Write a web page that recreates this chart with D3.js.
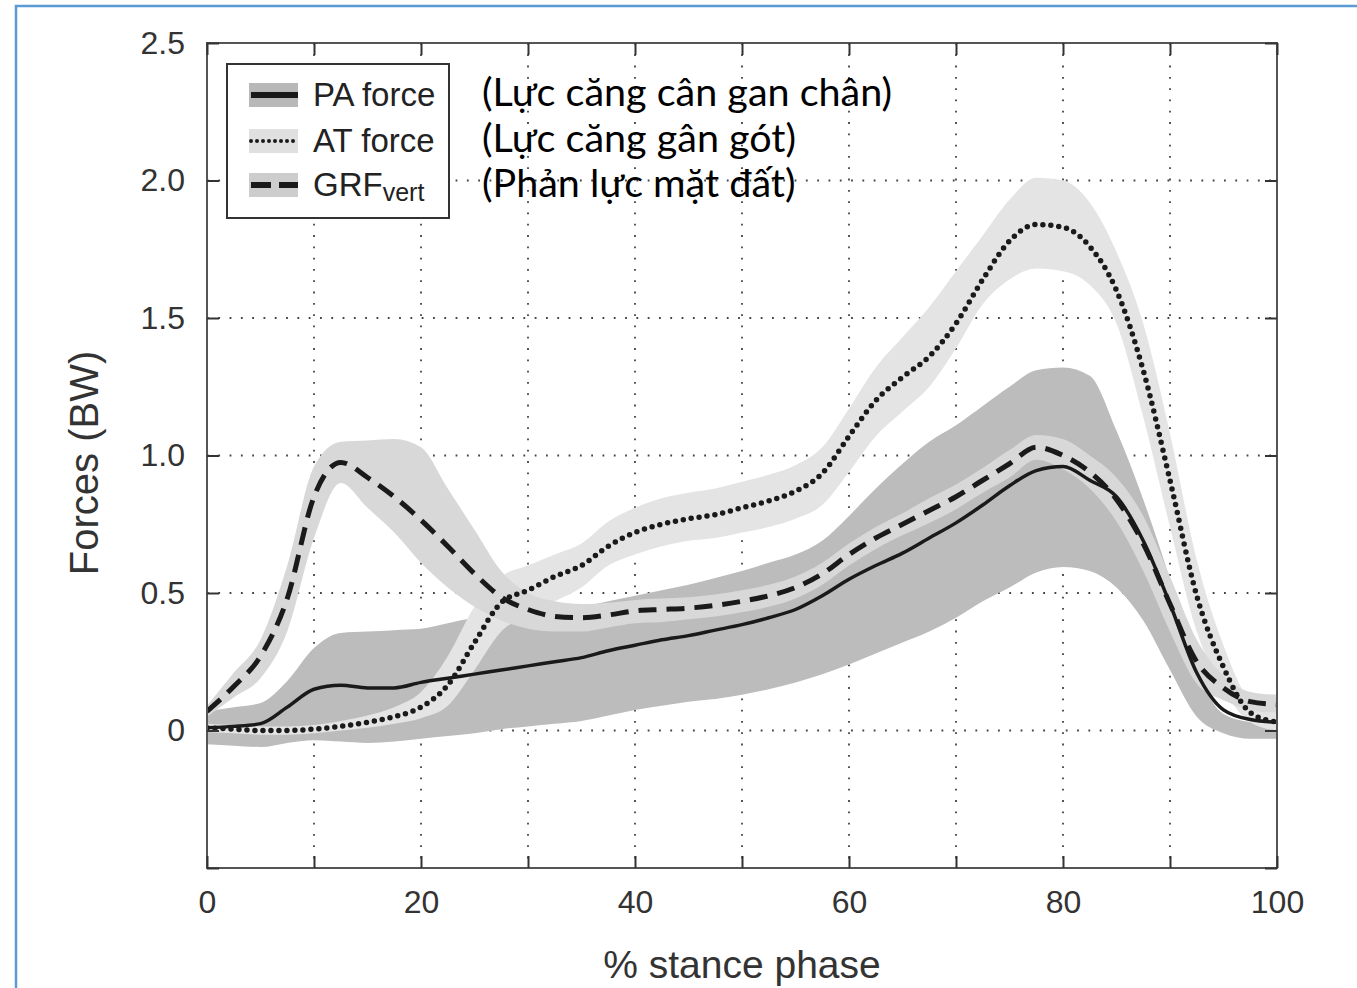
<!DOCTYPE html>
<html>
<head>
<meta charset="utf-8">
<script src="https://cdn.jsdelivr.net/npm/d3@7"></script>
<style>
  body { margin: 0; background: #fff; }
  svg { display: block; }
</style>
</head>
<body>
<div id="chart"></div>
<script>
// % stance phase sample points
const pct = [0, 2.5, 5, 7.5, 10, 12.5, 15, 17.5, 20, 22.5, 25, 27.5, 30, 32.5, 35, 37.5, 40, 42.5, 45, 47.5,
  50, 52.5, 55, 57.5, 60, 62.5, 65, 67.5, 70, 72.5, 75, 77.5, 80, 82.5, 85, 87.5, 90, 92.5, 95, 97.5, 100];

// plantar aponeurosis force (BW)
const paMean = [0.01, 0.015, 0.025, 0.085, 0.15, 0.165, 0.155, 0.155, 0.175, 0.19, 0.205, 0.22, 0.235, 0.25, 0.265, 0.29, 0.31, 0.33, 0.345, 0.365,
  0.385, 0.41, 0.44, 0.49, 0.55, 0.60, 0.645, 0.70, 0.755, 0.82, 0.89, 0.945, 0.96, 0.91, 0.85, 0.69, 0.46, 0.21, 0.075, 0.04, 0.03];
const paHigh = [0.07, 0.085, 0.10, 0.18, 0.30, 0.355, 0.36, 0.365, 0.37, 0.39, 0.41, 0.42, 0.43, 0.44, 0.45, 0.47, 0.49, 0.51, 0.53, 0.555,
  0.58, 0.61, 0.64, 0.69, 0.78, 0.88, 0.97, 1.05, 1.11, 1.18, 1.25, 1.31, 1.32, 1.29, 1.09, 0.84, 0.55, 0.22, 0.06, 0.03, 0.02];
const paLow = [-0.05, -0.055, -0.06, -0.045, -0.035, -0.04, -0.045, -0.04, -0.03, -0.02, -0.01, 0.005, 0.015, 0.025, 0.035, 0.055, 0.075, 0.09, 0.105, 0.115,
  0.13, 0.15, 0.175, 0.205, 0.24, 0.28, 0.32, 0.36, 0.41, 0.47, 0.52, 0.575, 0.595, 0.58, 0.52, 0.40, 0.22, 0.05, -0.01, -0.03, -0.03];

// Achilles tendon force (BW)
const atMean = [0.01, 0.005, 0.0, 0.0, 0.005, 0.015, 0.03, 0.05, 0.085, 0.165, 0.32, 0.465, 0.51, 0.56, 0.60, 0.67, 0.72, 0.75, 0.77, 0.785,
  0.81, 0.835, 0.87, 0.935, 1.07, 1.20, 1.285, 1.36, 1.48, 1.64, 1.78, 1.84, 1.83, 1.76, 1.60, 1.31, 0.91, 0.49, 0.23, 0.065, 0.03];
const atHigh = [0.025, 0.02, 0.015, 0.015, 0.02, 0.035, 0.055, 0.085, 0.14, 0.27, 0.45, 0.56, 0.60, 0.64, 0.68, 0.76, 0.81, 0.845, 0.865, 0.88,
  0.905, 0.93, 0.965, 1.03, 1.17, 1.32, 1.43, 1.54, 1.67, 1.80, 1.93, 2.01, 2.0, 1.92, 1.74, 1.48, 1.08, 0.62, 0.31, 0.11, 0.065];
const atLow = [-0.005, -0.01, -0.015, -0.015, -0.01, 0.0, 0.01, 0.025, 0.045, 0.09, 0.22, 0.36, 0.42, 0.47, 0.52, 0.60, 0.64, 0.67, 0.69, 0.70,
  0.72, 0.74, 0.77, 0.82, 0.94, 1.07, 1.16, 1.25, 1.39, 1.55, 1.64, 1.68, 1.67, 1.62, 1.48, 1.14, 0.74, 0.36, 0.15, 0.03, 0.0];

// vertical ground reaction force (BW)
const grfMean = [0.07, 0.16, 0.27, 0.48, 0.85, 0.975, 0.92, 0.85, 0.765, 0.67, 0.57, 0.485, 0.44, 0.415, 0.41, 0.42, 0.435, 0.44, 0.445, 0.455,
  0.47, 0.49, 0.52, 0.57, 0.64, 0.70, 0.75, 0.80, 0.85, 0.91, 0.97, 1.03, 1.0, 0.94, 0.84, 0.68, 0.46, 0.25, 0.155, 0.105, 0.095];
const grfHigh = [0.09, 0.21, 0.33, 0.60, 0.96, 1.05, 1.055, 1.06, 1.03, 0.88, 0.73, 0.58, 0.50, 0.47, 0.46, 0.465, 0.475, 0.48, 0.485, 0.495,
  0.51, 0.53, 0.56, 0.61, 0.68, 0.74, 0.79, 0.845, 0.895, 0.955, 1.02, 1.075, 1.06, 1.0, 0.92, 0.78, 0.56, 0.33, 0.20, 0.14, 0.13];
const grfLow = [0.05, 0.12, 0.19, 0.36, 0.70, 0.90, 0.81, 0.72, 0.61, 0.52, 0.45, 0.40, 0.37, 0.36, 0.36, 0.375, 0.39, 0.395, 0.405, 0.415,
  0.43, 0.45, 0.48, 0.53, 0.60, 0.66, 0.71, 0.755, 0.805, 0.865, 0.92, 0.985, 0.95, 0.88, 0.76, 0.58, 0.36, 0.17, 0.11, 0.075, 0.065];

const xTicks = [0, 10, 20, 30, 40, 50, 60, 70, 80, 90, 100];
const yTicks = [-0.5, 0, 0.5, 1.0, 1.5, 2.0, 2.5];
const xGrid = [10, 20, 30, 40, 50, 60, 70, 80, 90];
const yGrid = [0, 0.5, 1.0, 1.5, 2.0];
const legendNames = ["PA force", "AT force", "GRF"];
const notes = ["(Lực căng cân gan chân)", "(Lực căng gân gót)", "(Phản lực mặt đất)"];

const width = 1357, height = 988;
const svg = d3.select("#chart").append("svg")
  .attr("width", width)
  .attr("height", height);

// blue slide frame
svg.append("path")
  .attr("d", "M16,988 L16,6 L1357,6")
  .attr("fill", "none")
  .attr("stroke", "#5b9bd5")
  .attr("stroke-width", 2.5);

const x = d3.scaleLinear().domain([0, 100]).range([207, 1277]);
const y = d3.scaleLinear().domain([-0.5, 2.5]).range([868, 43]);

// dotted grid
const grid = svg.append("g")
  .attr("stroke", "#444")
  .attr("stroke-width", 1.8)
  .attr("stroke-dasharray", "1.8,9.5");
grid.selectAll("line.v").data(xGrid).enter().append("line")
  .attr("x1", d => x(d)).attr("x2", d => x(d))
  .attr("y1", y(2.5)).attr("y2", y(-0.5));
grid.selectAll("line.h").data(yGrid).enter().append("line")
  .attr("x1", x(0)).attr("x2", x(100))
  .attr("y1", d => y(d)).attr("y2", d => y(d));

svg.append("clipPath").attr("id", "plotclip")
  .append("rect")
  .attr("x", x(0)).attr("y", y(2.5))
  .attr("width", x(100) - x(0)).attr("height", y(-0.5) - y(2.5));

const rows = pct.map((p, i) => ({
  p,
  pa: paMean[i], paL: paLow[i], paH: paHigh[i],
  at: atMean[i], atL: atLow[i], atH: atHigh[i],
  grf: grfMean[i], grfL: grfLow[i], grfH: grfHigh[i]
}));

const plot = svg.append("g").attr("clip-path", "url(#plotclip)");

const band = (lo, hi) => d3.area()
  .x(d => x(d.p))
  .y0(d => y(d[lo]))
  .y1(d => y(d[hi]))
  .curve(d3.curveMonotoneX);
const meanLine = key => d3.line()
  .x(d => x(d.p))
  .y(d => y(d[key]))
  .curve(d3.curveMonotoneX);

// SD bands
plot.append("path").datum(rows).attr("d", band("paL", "paH")).attr("fill", "#bcbcbc");
plot.append("path").datum(rows).attr("d", band("atL", "atH")).attr("fill", "#e4e4e4");
plot.append("path").datum(rows).attr("d", band("grfL", "grfH")).attr("fill", "#d8d8d8");

// mean curves
plot.append("path").datum(rows).attr("d", meanLine("pa"))
  .attr("fill", "none").attr("stroke", "#1a1a1a").attr("stroke-width", 3.5);
plot.append("path").datum(rows).attr("d", meanLine("at"))
  .attr("fill", "none").attr("stroke", "#1a1a1a").attr("stroke-width", 5.5)
  .attr("stroke-linecap", "round").attr("stroke-dasharray", "0,8");
plot.append("path").datum(rows).attr("d", meanLine("grf"))
  .attr("fill", "none").attr("stroke", "#1a1a1a").attr("stroke-width", 5)
  .attr("stroke-dasharray", "18,10");

// frame
svg.append("rect")
  .attr("x", x(0)).attr("y", y(2.5))
  .attr("width", x(100) - x(0)).attr("height", y(-0.5) - y(2.5))
  .attr("fill", "none").attr("stroke", "#555").attr("stroke-width", 2);

const tickFont = "'Liberation Sans', Arial, Helvetica, sans-serif";

// axes with inward ticks
svg.append("g").attr("transform", `translate(0,${y(-0.5)})`)
  .call(d3.axisBottom(x).tickValues(xTicks).tickSize(-12).tickPadding(22)
    .tickFormat(d => d % 20 === 0 ? d : ""));
svg.append("g").attr("transform", `translate(0,${y(2.5)})`)
  .call(d3.axisTop(x).tickValues(xTicks).tickSize(-12).tickFormat(""));
svg.append("g").attr("transform", `translate(${x(0)},0)`)
  .call(d3.axisLeft(y).tickValues(yTicks).tickSize(-12).tickPadding(22)
    .tickFormat(d => d < 0 ? "" : (d === 0 ? "0" : d3.format(".1f")(d))));
svg.append("g").attr("transform", `translate(${x(100)},0)`)
  .call(d3.axisRight(y).tickValues(yTicks).tickSize(-12).tickFormat(""));

svg.selectAll(".domain").remove();
svg.selectAll(".tick line").attr("stroke", "#333").attr("stroke-width", 2);
svg.selectAll(".tick text")
  .attr("fill", "#333")
  .style("font-family", tickFont)
  .style("font-size", "32px");

// axis titles
svg.append("text")
  .attr("x", 742).attr("y", 978)
  .attr("text-anchor", "middle")
  .attr("fill", "#333")
  .style("font-family", tickFont)
  .style("font-size", "39px")
  .text("% stance phase");
svg.append("text")
  .attr("transform", "translate(98,463) rotate(-90)")
  .attr("text-anchor", "middle")
  .attr("fill", "#333")
  .style("font-family", tickFont)
  .style("font-size", "40px")
  .text("Forces (BW)");

// legend
const legend = svg.append("g");
legend.append("rect")
  .attr("x", 227).attr("y", 64).attr("width", 222).attr("height", 154)
  .attr("fill", "#fff").attr("stroke", "#333").attr("stroke-width", 2);

const swatchFill = ["#b8b8b8", "#e0e0e0", "#cdcdcd"];
const swatchDash = [null, "0,6", "20,8"];
const swatchWidth = [6, 4, 6];
const swatchCap = ["butt", "round", "butt"];
const entryY = [95, 141, 185];

legendNames.forEach((name, i) => {
  const cy = entryY[i];
  legend.append("rect")
    .attr("x", 249).attr("y", cy - 12).attr("width", 49).attr("height", 24)
    .attr("fill", swatchFill[i]);
  legend.append("line")
    .attr("x1", 251).attr("x2", 298).attr("y1", cy).attr("y2", cy)
    .attr("stroke", "#1a1a1a")
    .attr("stroke-width", swatchWidth[i])
    .attr("stroke-linecap", swatchCap[i])
    .attr("stroke-dasharray", swatchDash[i]);
  const t = legend.append("text")
    .attr("x", 313).attr("y", cy + 11)
    .attr("fill", "#222")
    .style("font-family", tickFont)
    .style("font-size", "33px")
    .text(name);
  if (i === 2) {
    t.append("tspan")
      .attr("dy", 5)
      .style("font-size", "25px")
      .text("vert");
  }
});

// Vietnamese annotations
const noteY = [106, 152, 197];
notes.forEach((n, i) => {
  svg.append("text")
    .attr("x", 482).attr("y", noteY[i])
    .attr("fill", "#000")
    .style("font-family", "Lato, 'Open Sans', sans-serif")
    .style("font-size", "39.5px")
    .text(n);
});
</script>
</body>
</html>
